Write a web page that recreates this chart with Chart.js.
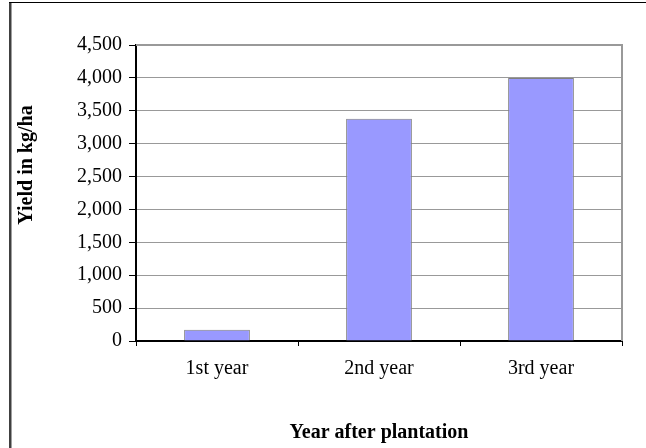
<!DOCTYPE html>
<html>
<head>
<meta charset="utf-8">
<title>Yield after plantation</title>
<script src="https://cdn.jsdelivr.net/npm/chart.js@4.4.1/dist/chart.umd.min.js"></script>
<style>
  html, body { margin: 0; padding: 0; background: #fff; }
  #wrap { width: 646px; height: 448px; }
</style>
</head>
<body>
<div id="wrap"><canvas id="yieldChart" width="646" height="448"></canvas></div>
<script>
// yield per year after plantation (kg/ha)
const years = ["1st year", "2nd year", "3rd year"];
const yieldKg = [170, 3380, 4000];
const yMax = 4500;
const yStep = 500;

const serif = "'Liberation Serif', 'Times New Roman', serif";

// chart frame: dark left edge and thin top line
const framePlugin = {
  id: "frame",
  beforeDraw(chart) {
    const c = chart.ctx;
    c.save();
    c.fillStyle = "#fff";
    c.fillRect(0, 0, chart.width, chart.height);
    c.fillStyle = "#404040";
    c.fillRect(9, 2, 2.5, chart.height - 2);
    c.fillStyle = "#000";
    c.fillRect(9, 2, chart.width - 9, 1);
    c.restore();
  },
  afterDraw(chart) {
    // gray border on top and right of the plot area
    const a = chart.chartArea;
    const c = chart.ctx;
    c.save();
    c.strokeStyle = "#999";
    c.lineWidth = 2;
    c.beginPath();
    c.moveTo(a.left, a.top);
    c.lineTo(a.right, a.top);
    c.lineTo(a.right, a.bottom);
    c.stroke();

    // y axis title
    c.fillStyle = "#000";
    c.font = "bold 20px " + serif;
    c.textAlign = "center";
    c.textBaseline = "middle";
    c.translate(27, 165);
    c.rotate(-Math.PI / 2);
    c.fillText("Yield in kg/ha", 0, 0);
    c.restore();
  }
};

const ctx = document.getElementById("yieldChart").getContext("2d");
new Chart(ctx, {
  type: "bar",
  data: {
    labels: years,
    datasets: [{
      data: yieldKg,
      backgroundColor: "#9999FF",
      borderColor: "#808080",
      borderWidth: 1,
      categoryPercentage: 1,
      barPercentage: 0.406
    }]
  },
  options: {
    responsive: false,
    animation: false,
    layout: { padding: { left: 12, right: 24, top: 45, bottom: 0 } },
    plugins: {
      legend: { display: false },
      tooltip: { enabled: false }
    },
    scales: {
      x: {
        offset: true,
        grid: {
          offset: true,
          drawOnChartArea: false,
          drawTicks: true,
          tickLength: 5,
          tickColor: "#000",
          tickWidth: 1
        },
        border: { color: "#000", width: 2 },
        ticks: {
          color: "#000",
          padding: 11,
          font: { family: serif, size: 20 }
        },
        title: {
          display: true,
          text: "Year after plantation",
          color: "#000",
          padding: { top: 0, bottom: 3 },
          font: { family: serif, size: 20, weight: "bold" }
        },
        afterFit(scale) { scale.height = 107; }
      },
      y: {
        min: 0,
        max: yMax,
        grid: {
          color: "#999",
          lineWidth: 1,
          tickLength: 7,
          tickColor: "#000"
        },
        border: { color: "#000", width: 2 },
        ticks: {
          stepSize: yStep,
          color: "#000",
          padding: 7,
          font: { family: serif, size: 20 },
          callback: v => v.toLocaleString("en-US")
        },
        afterFit(scale) { scale.width = 124; }
      }
    }
  },
  plugins: [framePlugin]
});
</script>
</body>
</html>
